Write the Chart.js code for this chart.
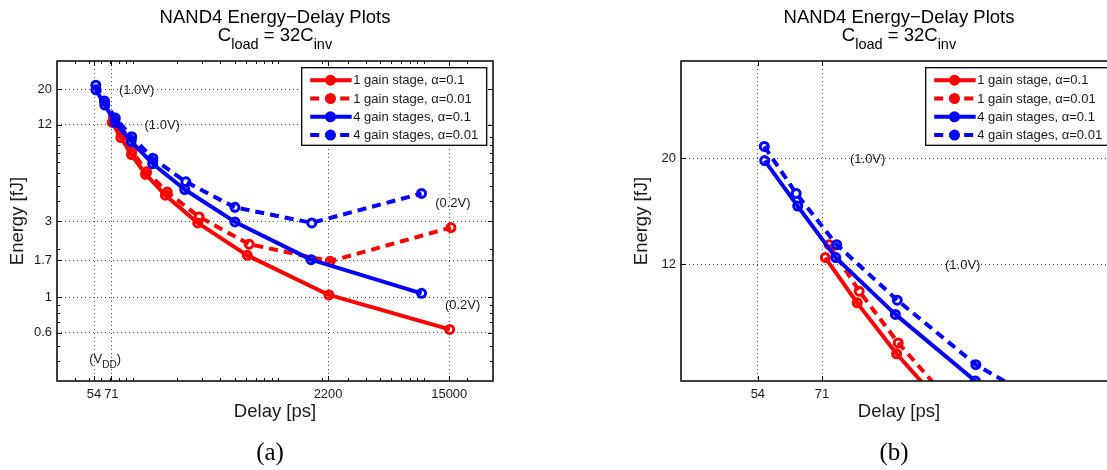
<!DOCTYPE html>
<html><head><meta charset="utf-8">
<script src="https://cdn.jsdelivr.net/npm/chart.js@4/dist/chart.umd.min.js"></script>
<style>
html,body{margin:0;padding:0;background:#fff;overflow:hidden;width:1107px;height:470px;position:relative;}
.wrap{position:absolute;top:0;width:553px;height:470px;}
canvas{display:block;}
</style></head><body>
<div class="wrap" style="left:0"><canvas id="ca" width="553" height="470"></canvas></div>
<div class="wrap" style="left:624px"><canvas id="cb" width="553" height="470"></canvas></div>
<script>
// ---------------- data ----------------
const seriesLabels = ['1 gain stage, \u03b1=0.1', '1 gain stage, \u03b1=0.01', '4 gain stages, \u03b1=0.1', '4 gain stages, \u03b1=0.01'];
const delay1gA01  = [72, 82.5, 97.6, 122, 167, 279, 611, 2230, 15100];
const energy1gA01 = [12.4, 9.97, 7.8, 5.88, 4.35, 2.92, 1.83, 1.035, 0.63];
const delay1gA001  = [73.2, 83.2, 98.3, 124, 172, 285, 630, 2270, 15400];
const energy1gA001 = [13.2, 10.55, 8.22, 6.1, 4.55, 3.18, 2.15, 1.68, 2.73];
const delay4gA01  = [55.6, 64, 75.3, 97.1, 136.6, 227, 503, 1680, 9670];
const energy4gA01 = [19.8, 15.9, 12.4, 9.43, 6.84, 4.72, 2.96, 1.72, 1.06];
const delay4gA001  = [55.5, 63.6, 75.6, 97.9, 136.9, 231, 503, 1700, 9670];
const energy4gA001 = [21.2, 16.9, 13.2, 10.1, 7.4, 5.27, 3.65, 2.92, 4.46];

const xTicksA = [54, 71, 2200, 15000];
const yTicksA = [0.6, 1, 1.7, 3, 12, 20];
const xTicksB = [54, 71];
const yTicksB = [12, 20];

const annotText   = ['(1.0V)', '(1.0V)', '(0.2V)', '(0.2V)', '(V|DD|)'];
const annotDelay  = [80, 120, 12000, 14000, 50];
const annotEnergy = [20, 12, 3.93, 0.9, 0.415];

const titleLine1 = 'NAND4 Energy\u2212Delay Plots';
const titleLine2 = [['C',0],['load',1],[' = 32C',0],['inv',1]];
const xTitle = 'Delay [ps]';
const yTitle = 'Energy [fJ]';

// ---------------- drawing ----------------
const SANS = '"Liberation Sans", Arial, Helvetica, sans-serif';
const TXT = '#1a1a1a';

function toPts(xs, ys){ return xs.map((x,i)=>({x:x, y:ys[i]})); }

function richWidth(ctx, segs, size, subSize){
  let w = 0;
  segs.forEach(s=>{ ctx.font = (s[1]?subSize:size)+'px '+SANS; w += ctx.measureText(s[0]).width; });
  return w;
}
function drawRich(ctx, segs, x, baseY, size, subSize, subOff, align){
  const w = richWidth(ctx, segs, size, subSize);
  let cx = align === 'center' ? x - w/2 : x;
  ctx.textAlign = 'left'; ctx.textBaseline = 'alphabetic';
  segs.forEach(s=>{
    ctx.font = (s[1]?subSize:size)+'px '+SANS;
    ctx.fillText(s[0], cx, baseY + (s[1]?subOff:0));
    cx += ctx.measureText(s[0]).width;
  });
}
function parseRich(str){
  const parts = str.split('|');
  return parts.map((p,i)=>[p, i%2===1 ? 1 : 0]).filter(p=>p[0].length);
}

function makeDecor(cfg){
  return {
    id: 'decor_'+cfg.caption,
    afterDatasetsDraw(chart){
      const ctx = chart.ctx, a = chart.chartArea;
      const xs = chart.scales.x, ys = chart.scales.y;
      ctx.save();
      ctx.beginPath(); ctx.rect(a.left, a.top, a.right-a.left, a.bottom-a.top); ctx.clip();
      ctx.fillStyle = TXT;
      annotText.forEach((t,i)=>{
        const px = xs.getPixelForValue(annotDelay[i]);
        const py = ys.getPixelForValue(annotEnergy[i]);
        drawRich(ctx, parseRich(t), px, py + 4.6, 13, 10, 5, 'left');
      });
      ctx.restore();
    },
    afterDraw(chart){
      const ctx = chart.ctx, a = chart.chartArea;
      const xs = chart.scales.x, ys = chart.scales.y;
      ctx.save();
      // ticks
      ctx.strokeStyle = '#000'; ctx.lineWidth = 1;
      const tick = (px, horiz, len) => {
        ctx.beginPath();
        if (horiz) {
          ctx.moveTo(px, a.bottom); ctx.lineTo(px, a.bottom - len);
          ctx.moveTo(px, a.top); ctx.lineTo(px, a.top + len);
        } else {
          ctx.moveTo(a.left, px); ctx.lineTo(a.left + len, px);
          ctx.moveTo(a.right, px); ctx.lineTo(a.right - len, px);
        }
        ctx.stroke();
      };
      if (cfg.minor) {
        [[xs,true],[ys,false]].forEach(([s,h])=>{
          for (let d = Math.floor(Math.log10(s.min)); d <= Math.ceil(Math.log10(s.max)); d++) {
            for (let k = 1; k <= 9; k++) {
              const v = k*Math.pow(10,d);
              if (v > s.min*1.001 && v < s.max*0.999) tick(Math.round(s.getPixelForValue(v))+0.5, h, 3);
            }
          }
        });
      }
      cfg.xt.forEach(v=>tick(Math.round(xs.getPixelForValue(v))+0.5, true, 5));
      cfg.yt.forEach(v=>tick(Math.round(ys.getPixelForValue(v))+0.5, false, 5));
      // frame
      ctx.strokeStyle = '#111'; ctx.lineWidth = 1.6;
      ctx.strokeRect(a.left, a.top, a.right-a.left, a.bottom-a.top);

      // legend
      const bw = 185, bh = 77.6;
      const bx = a.right - 6.3 - bw, by = a.top + 6.7;
      ctx.fillStyle = '#fff'; ctx.fillRect(bx, by, bw, bh);
      ctx.strokeStyle = '#000'; ctx.lineWidth = 1.3; ctx.strokeRect(bx, by, bw, bh);
      chart.data.datasets.forEach((ds, i)=>{
        const yy = by + 12.5 + i*18.3;
        ctx.save();
        ctx.strokeStyle = ds.borderColor; ctx.lineWidth = ds.borderWidth;
        ctx.setLineDash(ds.borderDash || []);
        ctx.beginPath(); ctx.moveTo(bx+8.5, yy); ctx.lineTo(bx+50, yy); ctx.stroke();
        ctx.setLineDash([]);
        ctx.lineWidth = 3;
        ctx.beginPath(); ctx.arc(bx+28.8, yy, 4, 0, Math.PI*2); ctx.stroke();
        ctx.fillStyle = ds.borderColor; ctx.fill();
        ctx.restore();
        ctx.fillStyle = TXT; ctx.font = '13px '+SANS; ctx.textAlign = 'left'; ctx.textBaseline = 'middle';
        ctx.fillText(ds.label, bx+51.5, yy+0.5);
      });

      // axis titles
      const cx = (a.left + a.right)/2, cy = (a.top + a.bottom)/2;
      ctx.fillStyle = TXT; ctx.font = '18.5px '+SANS; ctx.textAlign = 'center'; ctx.textBaseline = 'middle';
      ctx.fillText(xTitle, cx, a.bottom + 31);
      ctx.save(); ctx.translate(a.left - 39, cy); ctx.rotate(-Math.PI/2); ctx.fillText(yTitle, 0, 0); ctx.restore();

      // title
      ctx.fillStyle = '#000';
      ctx.font = '18.5px '+SANS; ctx.textAlign = 'center'; ctx.textBaseline = 'alphabetic';
      ctx.fillText(titleLine1, cx, 23.3);
      drawRich(ctx, titleLine2, cx, 40.8, 18.5, 14.5, 8.5, 'center');

      // caption
      ctx.font = '25px "Liberation Serif", "DejaVu Serif", serif'; ctx.textAlign = 'center'; ctx.textBaseline = 'middle';
      ctx.fillStyle = '#000';
      ctx.fillText(cfg.caption, cx - 5, 453);
      ctx.restore();
    }
  };
}

function makeChart(id, cfg){
  const mk = (label, xs, ys, color, dashed, order) => ({
    label: label, data: toPts(xs, ys), showLine: true, tension: 0,
    borderColor: color, backgroundColor: color, borderWidth: 4,
    borderDash: dashed ? [9,6] : [], borderCapStyle: 'butt', borderJoinStyle: 'round',
    pointRadius: 4, pointBorderWidth: 3, pointBackgroundColor: 'rgba(0,0,0,0)',
    pointBorderColor: color, pointHoverRadius: 4, order: order
  });
  return new Chart(document.getElementById(id), {
    type: 'scatter',
    data: { datasets: [
      mk(seriesLabels[0], delay1gA01, energy1gA01, '#ff0000', false, 4),
      mk(seriesLabels[1], delay1gA001, energy1gA001, '#ff0000', true, 3),
      mk(seriesLabels[2], delay4gA01, energy4gA01, '#0000ff', false, 2),
      mk(seriesLabels[3], delay4gA001, energy4gA001, '#0000ff', true, 1)
    ]},
    options: {
      responsive: false, animation: false, devicePixelRatio: 1,
      layout: { padding: { left: 0, right: 60, top: 61, bottom: 49 } },
      plugins: { legend: { display: false }, tooltip: { enabled: false }, title: { display: false } },
      events: [],
      scales: {
        x: {
          type: 'logarithmic', min: cfg.xmin, max: cfg.xmax,
          afterFit: s => { s.height = 40; s.paddingLeft = 0; s.paddingRight = 0; },
          afterBuildTicks: s => { s.ticks = cfg.xt.map(v => ({ value: v })); },
          ticks: { autoSkip: false, maxRotation: 0, minRotation: 0, padding: 6, color: TXT,
                   font: { family: SANS, size: 13 }, callback: v => String(v) },
          grid: { color: '#4a4a4a', lineWidth: 1, drawTicks: false },
          border: { display: false, dash: [1, 3] }
        },
        y: {
          type: 'logarithmic', min: cfg.ymin, max: cfg.ymax,
          afterFit: s => { s.width = 57; },
          afterBuildTicks: s => { s.ticks = cfg.yt.map(v => ({ value: v })); },
          ticks: { autoSkip: false, padding: 5, color: TXT,
                   font: { family: SANS, size: 13 }, callback: v => String(v) },
          grid: { color: '#4a4a4a', lineWidth: 1, drawTicks: false },
          border: { display: false, dash: [1, 3] }
        }
      }
    },
    plugins: [makeDecor(cfg)]
  });
}

makeChart('ca', { xmin: 30, xmax: 30000, ymin: 0.3, ymax: 30, xt: xTicksA, yt: yTicksA, minor: true, caption: '(a)' });
makeChart('cb', { xmin: 38.9, xmax: 250, ymin: 6.84, ymax: 32, xt: xTicksB, yt: yTicksB, minor: false, caption: '(b)' });
</script>
</body></html>
